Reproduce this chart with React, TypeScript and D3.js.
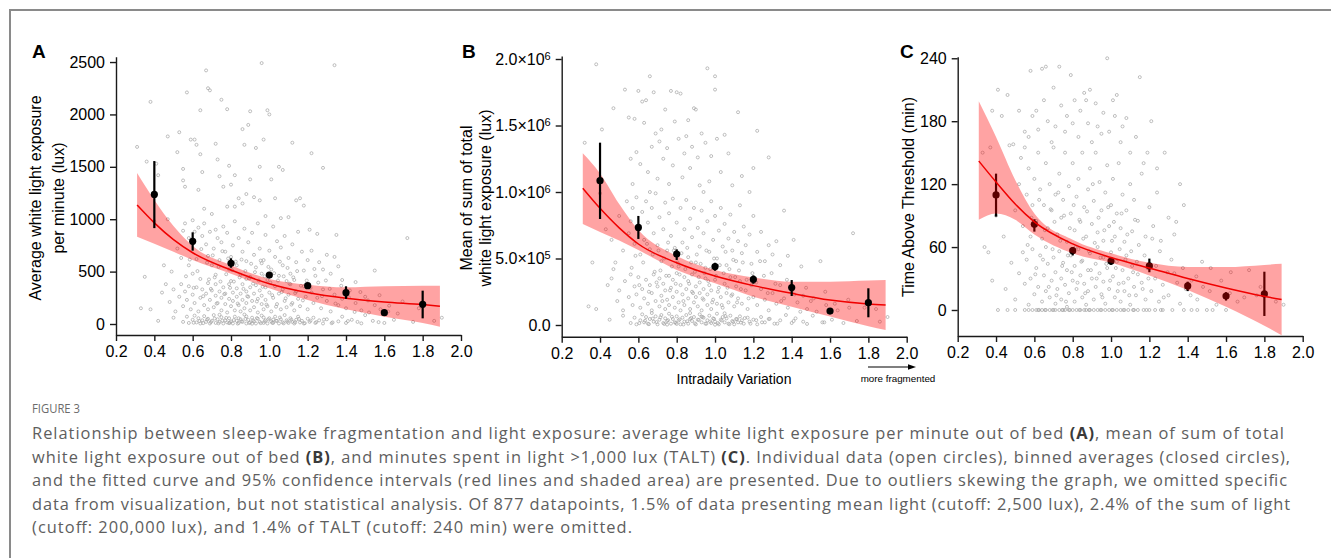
import React, { useEffect, useRef } from "react";
import * as d3 from "d3";

// ---- axis ticks ----
const xTicks = [0.2, 0.4, 0.6, 0.8, 1.0, 1.2, 1.4, 1.6, 1.8, 2.0];
const meanLuxTicks = [0, 500, 1000, 1500, 2000, 2500];
const sumLuxTicks = [0, 500000, 1000000, 1500000, 2000000];
const sumLuxTickLabels = [["0.0", ""], ["5.0×10", "5"], ["1.0×10", "6"], ["1.5×10", "6"], ["2.0×10", "6"]];
const taltTicks = [0, 60, 120, 180, 240];

// ---- binned averages (closed circles) with error bars ----
const binIV = [0.4, 0.6, 0.8, 1.0, 1.2, 1.4, 1.6, 1.8];
const meanLuxBin = [1237, 789, 579, 467, 366, 299, 108, 188];
const meanLuxBinLo = [915, 700, 537, 440, 345, 240, 95, 54];
const meanLuxBinHi = [1555, 875, 627, 495, 390, 360, 125, 318];
// sum of light in thousands of lux
const sumLuxBin = [1085, 734, 534, 439, 343, 281, 105, 168];
const sumLuxBinLo = [797, 647, 489, 408, 310, 218, 92, 58];
const sumLuxBinHi = [1371, 820, 569, 468, 373, 338, 118, 276];
const taltBin = [109.7, 81.7, 56.6, 46.7, 42, 22.9, 13.3, 15.3];
const taltBinLo = [89, 74.7, 52, 43, 36, 18, 9, -5.7];
const taltBinHi = [130, 86.5, 60, 50, 49, 27, 17, 36.5];

// ---- fitted curve and 95% CI ----
const fitIV = [0.31, 0.4, 0.5, 0.6, 0.8, 1.0, 1.2, 1.4, 1.6, 1.8, 1.89];
const meanLuxFit = [1135, 965, 805, 680, 515, 385, 300, 245, 210, 185, 170];
const meanLuxFitLo = [833, 766, 690, 611, 480, 340, 229, 140, 70, 10, -26];
const meanLuxFitHi = [1440, 1183, 935, 745, 560, 430, 375, 350, 360, 365, 365];
const sumLuxFit = [1028, 877, 730, 609, 468, 368, 296, 238, 188, 158, 150];
const sumLuxFitLo = [759, 700, 635, 564, 414, 313, 213, 138, 63, -10, -38];
const sumLuxFitHi = [1291, 1140, 910, 714, 519, 414, 358, 326, 326, 335, 338];
const taltFit = [142, 122, 101, 84, 63, 50, 40, 30, 21, 13, 10];
const taltFitLo = [86, 92, 86, 72, 54, 45, 33, 19, 3, -15, -24];
const taltFitHi = [199, 165, 124, 92, 67, 54, 45, 41, 41, 43, 44];

// ---- individual data (open circles): [IV, value] ----
const meanLuxPoints: [number, number][] = [
  [0.31,1690],[0.38,2120],[0.36,1550],[0.41,1530],[0.42,1420],[0.47,1790],[0.53,1830],[0.52,1640],[0.55,1480],[0.55,1370],
  [0.56,1310],[0.57,2210],[0.59,1760],[0.61,1760],[0.62,1710],[0.64,1620],[0.64,2040],[0.65,1450],[0.67,2420],[0.68,2250],
  [0.69,2230],[0.72,1720],[0.73,1570],[0.74,1410],[0.75,2140],[0.76,1310],[0.78,2050],[0.79,1510],[0.80,1330],[0.82,1420],
  [0.82,1120],[0.84,1200],[0.86,1860],[0.87,1710],[0.88,1240],[0.89,1900],[0.90,2030],[0.90,1380],[0.92,1210],[0.93,1680],
  [0.95,1500],[0.96,2490],[0.97,1760],[0.98,1030],[0.99,2040],[1.00,2000],[1.01,1380],[1.03,1200],[1.05,1500],[1.07,1470],
  [1.10,1020],[1.12,1730],[1.14,1180],[1.16,1200],[1.18,1130],[1.22,1630],[1.28,1490],[1.34,2470],[0.66,1100],[0.70,1050],
  [0.63,1280],[0.78,1120],[0.95,1180],[0.86,1150],[1.06,1010],
  [0.35,450],[0.40,980],[0.45,560],[0.49,500],[0.52,720],[0.54,630],[0.55,890],[0.56,960],[0.58,820],[0.60,990],
  [0.61,880],[0.62,620],[0.63,920],[0.65,840],[0.66,960],[0.67,760],[0.68,650],[0.69,880],[0.70,560],[0.71,720],
  [0.72,900],[0.73,820],[0.74,610],[0.75,780],[0.76,930],[0.77,690],[0.78,870],[0.79,520],[0.80,640],[0.81,750],
  [0.82,980],[0.83,560],[0.84,820],[0.85,470],[0.86,690],[0.87,910],[0.88,600],[0.89,780],[0.90,450],[0.91,870],
  [0.92,660],[0.93,540],[0.94,960],[0.95,720],[0.96,480],[0.97,610],[0.98,850],[1.00,700],[1.01,520],[1.02,930],
  [1.03,640],[1.04,790],[1.05,460],[1.06,730],[1.07,560],[1.08,840],[1.10,630],[1.11,480],[1.12,760],[1.14,590],
  [1.15,880],[1.17,690],[1.18,510],[1.20,610],[1.22,700],[1.24,460],[1.26,590],[1.28,520],[1.30,660],[1.32,480],
  [1.34,640],[1.36,550],[1.38,420],[0.64,430],[0.72,470],[0.80,410],[0.88,430],[0.99,420],[1.09,410],[0.58,560],
  [0.60,480],[0.96,580],[1.13,420],[1.21,900],[1.25,860],[0.47,1000],
  [0.33,150],[0.38,140],[0.44,300],[0.46,380],[0.48,210],[0.50,330],[0.51,120],[0.53,260],[0.54,380],[0.55,170],
  [0.56,310],[0.57,230],[0.58,360],[0.59,140],[0.60,280],[0.61,200],[0.62,350],[0.63,120],[0.64,250],[0.65,330],
  [0.66,180],[0.67,290],[0.68,390],[0.68,140],[0.69,230],[0.70,320],[0.71,160],[0.72,270],[0.72,380],[0.73,200],
  [0.74,310],[0.75,130],[0.75,250],[0.76,350],[0.77,190],[0.77,290],[0.78,110],[0.79,240],[0.79,380],[0.80,170],
  [0.81,300],[0.81,220],[0.82,130],[0.83,340],[0.83,260],[0.84,180],[0.85,290],[0.85,120],[0.86,380],[0.86,230],
  [0.87,150],[0.88,310],[0.88,200],[0.89,260],[0.90,130],[0.90,350],[0.91,220],[0.92,290],[0.92,160],[0.93,370],
  [0.94,240],[0.94,110],[0.95,320],[0.96,190],[0.96,270],[0.97,140],[0.98,350],[0.98,230],[0.99,170],[1.00,300],
  [1.01,120],[1.02,250],[1.03,360],[1.04,190],[1.05,290],[1.06,140],[1.07,330],[1.08,220],[1.09,160],[1.10,280],
  [1.11,380],[1.12,200],[1.13,130],[1.14,310],[1.15,240],[1.16,170],[1.18,360],[1.19,260],[1.20,140],[1.22,300],
  [1.23,200],[1.25,250],[1.27,150],[1.28,330],[1.30,220],[1.32,120],[1.34,280],[1.36,180],[1.38,240],[1.40,150],
  [1.42,320],[1.45,200],[1.48,130],[1.50,260],[1.52,110],[1.55,180],[1.58,140],[1.62,120],[1.67,100],[1.72,820],
  [1.55,510],[1.35,850],[1.45,400],
  [0.565,455],[0.585,615],[0.605,345],[0.625,505],[0.645,715],[0.655,265],[0.675,585],[0.685,425],[0.695,335],[0.705,655],
  [0.715,445],[0.725,195],[0.735,545],[0.745,405],[0.755,695],[0.765,285],[0.775,475],[0.785,625],[0.795,345],[0.805,515],
  [0.815,405],[0.825,595],[0.835,195],[0.845,445],[0.855,615],[0.865,335],[0.875,505],[0.885,265],[0.895,435],[0.905,575],
  [0.915,385],[0.925,495],[0.935,215],[0.945,415],[0.955,605],[0.965,355],[0.975,455],[0.985,185],[0.995,545],[1.005,395],
  [1.015,275],[1.025,485],[1.035,165],[1.045,415],[1.055,595],[1.065,305],[1.075,455],[1.085,245],[1.095,535],[1.105,385],
  [1.115,185],[1.125,445],[1.135,295],[1.145,505],[1.165,365],[1.175,225],[1.195,415],[1.215,345],[1.235,525],[1.255,395],
  [1.275,265],[1.295,415],[1.315,335],[1.345,195],[1.375,365],[1.415,255],[1.445,115],[1.475,305],[1.515,225],[1.575,275],
  [1.625,175],[1.695,215],[1.78,150],[1.86,30],
  [0.42,30],[0.50,60],[0.55,20],[0.57,70],[0.58,10],[0.60,40],[0.61,80],[0.62,15],[0.63,55],[0.64,5],
  [0.65,35],[0.66,75],[0.67,20],[0.68,50],[0.69,5],[0.70,30],[0.71,85],[0.72,10],[0.73,45],[0.74,20],
  [0.75,65],[0.76,5],[0.77,35],[0.78,15],[0.79,55],[0.80,25],[0.81,5],[0.82,70],[0.83,30],[0.84,10],
  [0.85,45],[0.86,20],[0.87,90],[0.88,5],[0.89,40],[0.90,15],[0.91,60],[0.92,25],[0.93,5],[0.94,50],
  [0.95,20],[0.96,80],[0.97,10],[0.98,35],[0.99,5],[1.00,55],[1.01,25],[1.02,10],[1.03,70],[1.04,30],
  [1.05,5],[1.06,45],[1.07,15],[1.08,85],[1.09,35],[1.10,10],[1.11,55],[1.12,20],[1.13,5],[1.14,40],
  [1.15,70],[1.16,15],[1.17,30],[1.18,5],[1.20,50],[1.21,20],[1.23,60],[1.24,10],[1.26,35],[1.28,5],
  [1.30,45],[1.33,15],[1.36,25],[1.38,70],[1.40,10],[1.43,40],[1.46,20],[1.50,85],[1.54,30],[1.60,10],
  [1.65,40],[1.75,20],[1.90,60],[0.79,8],[0.84,55],[0.91,3],[0.97,62],[1.02,42],[0.74,88],[0.88,72],
  [0.605,12],[0.635,28],[0.655,8],[0.675,42],[0.695,18],[0.715,52],[0.735,6],[0.755,32],[0.775,58],[0.795,14],
  [0.815,38],[0.835,4],[0.855,26],[0.875,48],[0.895,10],[0.915,34],[0.935,56],[0.955,8],[0.975,24],[0.995,44],
  [1.015,12],[1.035,30],[1.055,62],[1.075,6],[1.095,22],[1.115,40],[1.135,16],[1.155,48],[1.185,8],[1.215,32],
  [1.245,18],[1.285,42],[1.325,8],[1.41,28],[1.48,6],[1.57,18],
];

// thousands of lux
const sumLuxPoints: [number, number][] = [
  [0.32,1370],[0.38,1960],[0.41,1470],[0.47,1630],[0.53,1770],[0.55,1560],[0.56,1250],[0.58,1550],[0.59,1300],[0.60,1760],
  [0.61,1210],[0.62,1680],[0.63,1520],[0.64,1690],[0.65,1150],[0.66,1870],[0.67,1340],[0.68,1750],[0.69,1440],[0.70,1100],
  [0.71,1380],[0.72,1470],[0.73,1250],[0.74,1620],[0.75,1330],[0.76,1060],[0.77,1760],[0.78,1200],[0.79,1530],[0.80,1750],
  [0.81,1400],[0.82,1740],[0.83,1110],[0.84,1290],[0.85,1420],[0.86,1540],[0.87,1180],[0.88,1340],[0.89,1630],[0.90,1620],
  [0.91,1260],[0.92,1050],[0.93,1440],[0.95,1370],[0.96,1930],[0.97,1080],[0.98,1270],[1.00,1870],[1.00,1770],[1.01,1400],
  [1.03,1150],[1.05,1430],[1.07,1290],[1.09,1050],[1.12,1600],[1.14,1120],[1.18,1000],[1.20,1180],[1.22,1460],[1.28,1260],
  [0.57,1060],[0.66,1000],[0.94,1000],
  [0.40,990],[0.43,720],[0.46,640],[0.48,470],[0.50,820],[0.52,560],[0.54,930],[0.55,690],[0.56,780],[0.57,880],
  [0.58,610],[0.59,960],[0.60,720],[0.61,530],[0.62,850],[0.63,640],[0.64,930],[0.65,770],[0.66,570],[0.67,880],
  [0.68,690],[0.69,990],[0.70,600],[0.71,810],[0.72,480],[0.73,720],[0.74,920],[0.75,560],[0.76,840],[0.77,670],
  [0.78,950],[0.79,580],[0.80,770],[0.81,440],[0.82,880],[0.83,620],[0.84,720],[0.85,940],[0.86,510],[0.87,800],
  [0.88,660],[0.89,880],[0.90,470],[0.91,730],[0.92,590],[0.93,860],[0.94,690],[0.95,430],[0.96,780],[0.97,550],
  [0.98,930],[0.99,640],[1.00,820],[1.01,500],[1.02,710],[1.03,880],[1.04,590],[1.05,760],[1.06,450],[1.07,650],
  [1.08,830],[1.09,560],[1.10,700],[1.11,480],[1.12,630],[1.13,900],[1.14,540],[1.15,740],[1.16,600],[1.18,680],
  [1.19,460],[1.20,820],[1.22,550],[1.24,700],[1.26,480],[1.28,600],[1.30,530],[1.32,630],[1.34,450],[1.36,860],
  [1.38,520],[1.41,640],[1.45,440],[1.55,480],[1.72,690],[0.47,420],[0.36,470],
  [0.34,140],[0.38,120],[0.44,300],[0.46,350],[0.49,180],[0.50,260],[0.52,110],[0.53,330],[0.55,210],[0.56,380],
  [0.57,150],[0.58,290],[0.59,230],[0.60,360],[0.61,130],[0.62,270],[0.63,200],[0.64,340],[0.65,160],[0.66,300],
  [0.67,110],[0.67,240],[0.68,380],[0.69,180],[0.70,290],[0.71,140],[0.71,350],[0.72,220],[0.73,310],[0.74,120],
  [0.74,260],[0.75,190],[0.76,370],[0.76,150],[0.77,280],[0.78,210],[0.78,340],[0.79,130],[0.80,250],[0.80,390],
  [0.81,170],[0.82,300],[0.82,110],[0.83,230],[0.84,360],[0.84,150],[0.85,270],[0.86,200],[0.86,330],[0.87,120],
  [0.88,250],[0.88,380],[0.89,170],[0.90,290],[0.90,210],[0.91,140],[0.92,320],[0.92,240],[0.93,110],[0.94,270],
  [0.94,190],[0.95,350],[0.96,150],[0.96,230],[0.97,300],[0.98,120],[0.98,260],[0.99,190],[1.00,340],[1.01,160],
  [1.02,280],[1.03,210],[1.04,130],[1.05,310],[1.06,240],[1.07,170],[1.08,360],[1.09,230],[1.10,140],[1.11,290],
  [1.12,200],[1.13,330],[1.14,160],[1.16,260],[1.17,120],[1.19,300],[1.20,210],[1.22,150],[1.24,270],[1.26,190],
  [1.28,110],[1.30,240],[1.32,160],[1.34,300],[1.36,200],[1.38,130],[1.40,250],[1.43,170],[1.46,220],[1.48,120],
  [1.50,180],[1.53,100],[1.58,150],[1.64,110],[1.70,130],[1.84,120],
  [0.565,430],[0.585,520],[0.605,300],[0.625,470],[0.645,610],[0.655,250],[0.675,530],[0.685,400],[0.695,320],[0.705,560],
  [0.715,410],[0.725,180],[0.735,500],[0.745,370],[0.755,620],[0.765,260],[0.775,440],[0.785,560],[0.795,310],[0.805,470],
  [0.815,380],[0.825,540],[0.835,180],[0.845,420],[0.855,580],[0.865,310],[0.875,470],[0.885,240],[0.895,400],[0.905,530],
  [0.915,360],[0.925,460],[0.935,200],[0.945,390],[0.955,560],[0.965,330],[0.975,420],[0.985,170],[0.995,500],[1.005,370],
  [1.015,250],[1.025,450],[1.035,150],[1.045,390],[1.055,550],[1.065,280],[1.075,420],[1.085,220],[1.095,490],[1.105,360],
  [1.115,170],[1.125,410],[1.135,270],[1.145,470],[1.165,340],[1.175,200],[1.195,390],[1.215,320],[1.235,480],[1.255,370],
  [1.275,240],[1.295,390],[1.315,310],[1.345,180],[1.375,340],[1.415,230],[1.445,100],[1.475,280],[1.515,200],[1.575,250],
  [1.625,160],[1.695,190],[1.78,130],[1.86,25],
  [0.45,40],[0.52,70],[0.56,15],[0.58,55],[0.59,5],[0.61,35],[0.62,80],[0.63,20],[0.64,60],[0.65,10],
  [0.66,45],[0.67,90],[0.68,25],[0.69,65],[0.70,5],[0.71,40],[0.72,75],[0.73,15],[0.74,50],[0.75,30],
  [0.76,85],[0.77,10],[0.78,45],[0.79,20],[0.80,65],[0.81,35],[0.82,5],[0.83,55],[0.84,25],[0.85,75],
  [0.86,10],[0.87,45],[0.88,30],[0.89,60],[0.90,5],[0.91,40],[0.92,80],[0.93,20],[0.94,55],[0.95,10],
  [0.96,35],[0.97,70],[0.98,15],[0.99,50],[1.00,25],[1.01,85],[1.02,5],[1.03,40],[1.04,60],[1.05,20],
  [1.06,50],[1.07,10],[1.08,70],[1.09,30],[1.10,5],[1.11,45],[1.12,20],[1.13,65],[1.14,35],[1.15,10],
  [1.17,55],[1.18,25],[1.20,40],[1.22,5],[1.24,60],[1.26,20],[1.28,45],[1.31,10],[1.34,35],[1.37,75],
  [1.40,15],[1.42,50],[1.46,25],[1.51,70],[1.56,20],[1.61,40],[1.67,15],[1.74,30],[1.90,60],[0.80,8],
  [0.87,90],[0.93,62],[1.00,2],[1.05,88],[0.75,3],
  [0.605,14],[0.635,32],[0.655,6],[0.675,48],[0.695,22],[0.715,58],[0.735,8],[0.755,36],[0.775,62],[0.795,16],
  [0.815,42],[0.835,4],[0.855,28],[0.875,52],[0.895,12],[0.915,38],[0.935,60],[0.955,10],[0.975,26],[0.995,46],
  [1.015,14],[1.035,34],[1.055,66],[1.075,6],[1.095,24],[1.115,44],[1.135,18],[1.155,52],[1.185,10],[1.215,36],
  [1.245,20],[1.285,46],[1.325,10],[1.41,30],[1.48,8],[1.57,20],
];

// minutes above 1,000 lux
const taltPoints: [number, number][] = [
  [0.41,0],[0.46,0],[0.50,0],[0.55,0],[0.57,0],[0.59,0],[0.61,0],[0.62,0],[0.64,0],[0.66,0],
  [0.68,0],[0.70,0],[0.71,0],[0.73,0],[0.75,0],[0.76,0],[0.78,0],[0.80,0],[0.82,0],[0.84,0],
  [0.86,0],[0.87,0],[0.89,0],[0.91,0],[0.93,0],[0.95,0],[0.97,0],[0.99,0],[1.01,0],[1.03,0],
  [1.05,0],[1.07,0],[1.09,0],[1.12,0],[1.14,0],[1.17,0],[1.20,0],[1.23,0],[1.27,0],[1.32,0],
  [1.38,0],[1.42,0],[1.50,0],[1.53,0],[1.60,0],
  [0.625,0],[0.655,0],[0.695,0],[0.745,0],[0.785,0],[0.835,0],[0.885,0],[0.945,0],[1.005,0],[1.065,0],
  [1.115,0],[1.185,0],[1.26,0],[1.45,0],
  [0.34,60],[0.36,55],[0.38,28],[0.44,70],[0.45,20],[0.48,45],[0.50,10],[0.52,35],[0.54,55],[0.55,25],
  [0.56,48],[0.57,5],[0.58,30],[0.59,58],[0.60,15],[0.61,40],[0.62,22],[0.63,52],[0.64,8],[0.65,33],
  [0.66,60],[0.66,18],[0.67,44],[0.68,12],[0.69,28],[0.70,50],[0.71,6],[0.71,36],[0.72,20],[0.73,56],
  [0.74,30],[0.74,10],[0.75,45],[0.76,24],[0.77,3],[0.77,38],[0.78,16],[0.79,52],[0.80,28],[0.81,8],
  [0.81,42],[0.82,20],[0.83,58],[0.84,33],[0.85,12],[0.85,47],[0.86,25],[0.87,5],[0.88,38],[0.88,18],
  [0.89,54],[0.90,30],[0.91,10],[0.92,44],[0.92,22],[0.93,60],[0.94,35],[0.95,15],[0.96,50],[0.96,27],
  [0.97,6],[0.98,40],[0.99,20],[1.00,55],[1.01,32],[1.02,12],[1.03,46],[1.04,25],[1.05,8],[1.06,38],
  [1.07,18],[1.08,52],[1.09,30],[1.10,5],[1.11,42],[1.12,22],[1.13,14],[1.14,34],[1.16,26],[1.18,10],
  [1.19,40],[1.21,18],[1.23,30],[1.25,8],[1.27,24],[1.30,14],[1.33,35],[1.36,6],[1.39,20],[1.42,28],
  [1.45,10],[1.48,22],[1.52,40],[1.55,5],[1.62,16],[1.66,8],[1.72,38],[1.76,14],[1.90,5],
  [0.565,62],[0.585,88],[0.605,34],[0.625,105],[0.645,48],[0.655,76],[0.675,22],[0.685,96],[0.695,58],[0.705,84],
  [0.715,14],[0.725,112],[0.735,66],[0.745,42],[0.755,90],[0.765,8],[0.775,52],[0.785,78],[0.795,36],[0.805,100],
  [0.815,60],[0.825,26],[0.835,86],[0.845,46],[0.855,68],[0.865,16],[0.875,94],[0.885,56],[0.895,38],[0.905,120],
  [0.915,64],[0.925,30],[0.935,88],[0.945,50],[0.955,12],[0.965,76],[0.975,44],[0.985,98],[0.995,28],[1.005,66],
  [1.015,84],[1.025,40],[1.035,18],[1.045,58],[1.055,92],[1.065,26],[1.075,48],[1.085,72],[1.095,14],[1.105,56],
  [1.115,36],[1.125,86],[1.135,46],[1.145,62],[1.165,20],[1.175,52],[1.195,30],[1.215,68],[1.235,42],[1.255,56],
  [1.275,12],[1.295,36],[1.315,48],[1.345,26],[1.375,40],[1.415,14],[1.445,32],[1.475,46],[1.515,18],[1.575,28],
  [1.625,36],[1.695,12],[1.78,22],[1.86,8],
  [0.33,150],[0.37,155],[0.40,90],[0.43,185],[0.47,157],[0.50,95],[0.52,120],[0.53,145],[0.54,80],[0.55,155],
  [0.56,110],[0.57,135],[0.58,70],[0.59,100],[0.60,125],[0.61,85],[0.62,150],[0.63,115],[0.64,68],[0.65,100],
  [0.66,140],[0.67,78],[0.68,120],[0.69,95],[0.70,155],[0.71,110],[0.72,72],[0.73,130],[0.74,88],[0.75,105],
  [0.76,150],[0.77,65],[0.78,118],[0.79,92],[0.80,140],[0.81,76],[0.82,108],[0.83,125],[0.84,84],[0.85,150],
  [0.86,98],[0.87,70],[0.88,115],[0.89,135],[0.90,82],[0.91,104],[0.92,150],[0.93,74],[0.94,122],[0.95,95],
  [0.96,66],[0.97,112],[0.98,138],[0.99,80],[1.00,100],[1.01,125],[1.02,70],[1.03,92],[1.04,140],[1.05,78],
  [1.06,110],[1.07,65],[1.08,95],[1.10,120],[1.11,75],[1.12,105],[1.14,85],[1.16,130],[1.18,70],[1.20,98],
  [1.22,80],[1.24,112],[1.26,66],[1.28,150],[1.30,88],[1.33,72],[1.36,120],[1.38,100],[1.34,84],
  [0.38,190],[0.41,210],[0.46,205],[0.49,158],[0.52,190],[0.55,170],[0.57,165],[0.58,228],[0.59,185],[0.61,190],
  [0.62,172],[0.64,230],[0.65,200],[0.66,232],[0.67,180],[0.69,160],[0.70,212],[0.71,175],[0.73,232],[0.74,195],
  [0.76,170],[0.77,185],[0.79,224],[0.80,178],[0.81,200],[0.83,165],[0.84,190],[0.86,207],[0.87,200],[0.88,178],
  [0.89,210],[0.90,160],[0.92,197],[0.93,175],[0.95,168],[0.96,188],[0.98,240],[0.99,170],[1.01,200],[1.02,185],
  [1.03,205],[1.05,160],[1.06,175],[1.08,183],[1.10,150],[1.13,165],[1.15,222],[1.17,140],[1.21,180],[1.19,150],
  [1.24,135],
];

const captionHead = "FIGURE 3";
const captionLines: [string, boolean][][] = [
  [["Relationship between sleep-wake fragmentation and light exposure: average white light exposure per minute out of bed ", false], ["(A)", true], [", mean of sum of total", false]],
  [["white light exposure out of bed ", false], ["(B)", true], [", and minutes spent in light >1,000 lux (TALT) ", false], ["(C)", true], [". Individual data (open circles), binned averages (closed circles),", false]],
  [["and the fitted curve and 95% confidence intervals (red lines and shaded area) are presented. Due to outliers skewing the graph, we omitted specific", false]],
  [["data from visualization, but not statistical analysis. Of 877 datapoints, 1.5% of data presenting mean light (cutoff: 2,500 lux), 2.4% of the sum of light", false]],
  [["(cutoff: 200,000 lux), and 1.4% of TALT (cutoff: 240 min) were omitted.", false]],
];
const captionWidths = [1252, 1258, 1255, 1258, 600];

const ARIAL = "'Liberation Sans', Arial, sans-serif";

const App = () => {
  const ref = useRef<SVGSVGElement>(null);

  useEffect(() => {
    document.body.style.margin = "0";
    const svg = d3.select(ref.current);
    svg.selectAll("*").remove();

    // frame
    svg.append("line").attr("x1", 9).attr("x2", 1331).attr("y1", 10).attr("y2", 10)
      .attr("stroke", "#8a8a8a").attr("stroke-width", 2);
    svg.append("line").attr("x1", 10).attr("x2", 10).attr("y1", 9).attr("y2", 558)
      .attr("stroke", "#8a8a8a").attr("stroke-width", 2);

    const panels = [
      {
        letter: "A", letterX: 32, xRange: [116, 461], yDomain: [-105, 2550], yRange: [335, 56.8],
        ticks: meanLuxTicks, unit: 1, points: meanLuxPoints,
        bin: meanLuxBin, binLo: meanLuxBinLo, binHi: meanLuxBinHi,
        fit: meanLuxFit, fitLo: meanLuxFitLo, fitHi: meanLuxFitHi,
        titles: [["Average white light exposure", 41], ["per minute (lux)", 64]], titleY: 198, bandOver: false,
      },
      {
        letter: "B", letterX: 462, xRange: [561.7, 906.7], yDomain: [-88000, 2022600], yRange: [336.7, 56],
        ticks: sumLuxTicks, unit: 1000, points: sumLuxPoints,
        bin: sumLuxBin, binLo: sumLuxBinLo, binHi: sumLuxBinHi,
        fit: sumLuxFit, fitLo: sumLuxFitLo, fitHi: sumLuxFitHi,
        titles: [["Mean of sum of total", 472], ["white light exposure (lux)", 491]], titleY: 198, bandOver: false,
      },
      {
        letter: "C", letterX: 900, xRange: [957.7, 1302.7], yDomain: [-24.8, 241.5], yRange: [336, 56.7],
        ticks: taltTicks, unit: 1, points: taltPoints,
        bin: taltBin, binLo: taltBinLo, binHi: taltBinHi,
        fit: taltFit, fitLo: taltFitLo, fitHi: taltFitHi,
        titles: [["Time Above Threshold (min)", 914]], titleY: 197, bandOver: true,
      },
    ];

    panels.forEach((p, pi) => {
      const g = svg.append("g");
      const x = d3.scaleLinear().domain([0.2, 2.0]).range(p.xRange);
      const y = d3.scaleLinear().domain(p.yDomain).range(p.yRange);
      const u = p.unit;

      // individual data
      g.append("g").selectAll("circle").data(p.points).join("circle")
        .attr("cx", d => x(d[0])).attr("cy", d => y(d[1] * u)).attr("r", 1.5)
        .attr("fill", "none").attr("stroke", "#a3a3a3").attr("stroke-width", 0.7);

      const drawFit = () => {
        const area = d3.area<number>()
          .x((d, i) => x(fitIV[i]))
          .y0((d, i) => y(p.fitLo[i] * u))
          .y1((d, i) => y(p.fitHi[i] * u))
          .curve(d3.curveMonotoneX);
        g.append("path").attr("d", area(p.fit)).attr("fill", "#ff0000").attr("fill-opacity", 0.36);
        const line = d3.line<number>()
          .x((d, i) => x(fitIV[i]))
          .y(d => y(d * u))
          .curve(d3.curveMonotoneX);
        g.append("path").attr("d", line(p.fit)).attr("fill", "none")
          .attr("stroke", "#f00000").attr("stroke-width", 1.5);
      };
      const drawBins = () => {
        g.append("g").selectAll("line").data(p.bin).join("line")
          .attr("x1", (d, i) => x(binIV[i])).attr("x2", (d, i) => x(binIV[i]))
          .attr("y1", (d, i) => y(p.binLo[i] * u)).attr("y2", (d, i) => y(p.binHi[i] * u))
          .attr("stroke", "#000").attr("stroke-width", 2.2);
        g.append("g").selectAll("circle").data(p.bin).join("circle")
          .attr("cx", (d, i) => x(binIV[i])).attr("cy", d => y(d * u)).attr("r", 3.6)
          .attr("fill", "#000");
      };
      if (p.bandOver) { drawBins(); drawFit(); } else { drawFit(); drawBins(); }

      // axes
      const xAxis = d3.axisBottom(x).tickValues(xTicks).tickFormat(d3.format(".1f"))
        .tickSize(6).tickPadding(5).tickSizeOuter(0);
      const gx = g.append("g").attr("transform", `translate(0,${p.yRange[0]})`).call(xAxis);
      const yAxis = d3.axisLeft(y).tickValues(p.ticks).tickSize(6).tickPadding(5).tickSizeOuter(0)
        .tickFormat(d3.format("d"));
      const gy = g.append("g").attr("transform", `translate(${p.xRange[0]},0)`).call(yAxis);
      [gx, gy].forEach(ax => {
        ax.attr("font-family", ARIAL).attr("font-size", 16);
        ax.selectAll("path, line").attr("stroke", "#1a1a1a").attr("stroke-width", 1.4);
        ax.selectAll("text").attr("fill", "#000");
      });
      if (pi === 1) {
        gy.selectAll<SVGTextElement, number>(".tick text").each(function (d) {
          const lbl = sumLuxTickLabels[sumLuxTicks.indexOf(d)];
          const t = d3.select(this);
          t.text(null);
          t.append("tspan").text(lbl[0]);
          if (lbl[1]) t.append("tspan").attr("dy", "-0.45em").attr("font-size", 11).text(lbl[1]);
        });
      }

      // panel letter
      svg.append("text").attr("x", p.letterX).attr("y", 58).text(p.letter)
        .attr("font-family", ARIAL).attr("font-weight", "bold").attr("font-size", 19);

      // y title
      p.titles.forEach(([txt, bx]) => {
        svg.append("text").attr("transform", `translate(${bx},${p.titleY}) rotate(-90)`)
          .attr("text-anchor", "middle").attr("font-family", ARIAL).attr("font-size", 16)
          .attr("fill", "#000").text(txt as string);
      });
    });

    // shared x label and arrow
    svg.append("text").attr("x", 734).attr("y", 384).attr("text-anchor", "middle")
      .attr("font-family", ARIAL).attr("font-size", 14).text("Intradaily Variation");
    svg.append("text").attr("x", 898).attr("y", 382).attr("text-anchor", "middle")
      .attr("font-family", ARIAL).attr("font-size", 9.8).text("more fragmented");
    svg.append("line").attr("x1", 868).attr("x2", 909).attr("y1", 367).attr("y2", 367)
      .attr("stroke", "#000").attr("stroke-width", 1.2);
    svg.append("path").attr("d", "M916,367 L908,364.3 L908,369.7 Z").attr("fill", "#000");

    // caption
    svg.append("text").attr("x", 32).attr("y", 413).attr("font-family", "'Open Sans', sans-serif")
      .attr("font-size", 12.5).attr("fill", "#6b6b6b").attr("textLength", 48).attr("lengthAdjust", "spacingAndGlyphs")
      .text(captionHead);
    captionLines.forEach((segs, li) => {
      const t = svg.append("text").attr("x", 32).attr("y", 439 + li * 23.6)
        .attr("font-family", "'Open Sans', sans-serif").attr("font-size", 16.4)
        .attr("fill", "#5e5e5e")
        .attr("textLength", captionWidths[li]).attr("lengthAdjust", "spacing");
      segs.forEach(([s, b]) => {
        const ts = t.append("tspan").text(s);
        if (b) ts.attr("font-weight", "bold").attr("fill", "#3a3a3a");
      });
    });
  }, []);

  return <svg ref={ref} width={1331} height={558} style={{ display: "block", background: "#fff" }} />;
};

export default App;
